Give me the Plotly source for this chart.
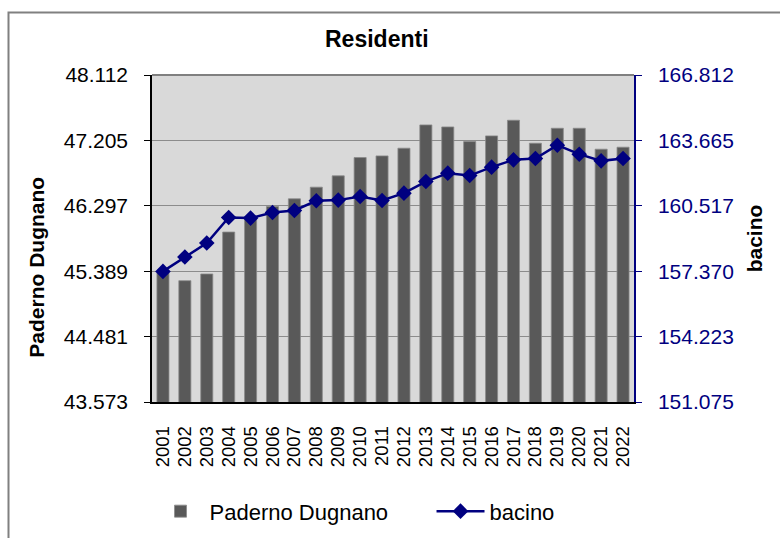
import plotly.graph_objects as go

years = [str(y) for y in range(2001, 2023)]
paderno = [45364, 45257, 45350, 45932, 46126, 46287, 46393, 46555, 46712, 46966, 46989,
           47096, 47419, 47391, 47188, 47267, 47484, 47165, 47373, 47373, 47082, 47110]
bacino = [157360, 158052, 158725, 159955, 159926, 160195, 160291, 160758, 160791, 160964, 160772,
          161127, 161685, 162088, 161973, 162377, 162728, 162790, 163434, 163001, 162680, 162790]

left_ticks = [43573, 44481, 45389, 46297, 47205, 48112]
left_labels = ["43.573", "44.481", "45.389", "46.297", "47.205", "48.112"]
right_ticks = [151075, 154223, 157370, 160517, 163665, 166812]
right_labels = ["151.075", "154.223", "157.370", "160.517", "163.665", "166.812"]

FONT = "Liberation Sans, Arial, sans-serif"
NAVY = "#000080"

# plot area in pixels
L, R, T, B = 152, 634, 75, 402.5
W, H = 780, 538
PW, PH = R - L, B - T


def px(x):
    return (x - L) / PW


def py(y):
    return (B - y) / PH


fig = go.Figure()
fig.add_trace(go.Bar(
    x=years, y=paderno, name="Paderno Dugnano",
    marker=dict(color="#595959", line=dict(color="#8a8a8a", width=0.8)),
    yaxis="y"))
fig.add_trace(go.Scatter(
    x=years, y=bacino, name="bacino", mode="lines+markers",
    line=dict(color=NAVY, width=2.5),
    marker=dict(symbol="diamond", size=12, color=NAVY),
    yaxis="y2"))

fig.update_layout(
    width=W, height=H,
    margin=dict(l=L, r=W - R, t=T, b=H - B, autoexpand=False),
    paper_bgcolor="white", plot_bgcolor="#d9d9d9",
    font=dict(family=FONT, size=21, color="black"),
    bargap=0.45,
    showlegend=True,
    legend=dict(orientation="h", x=-0.001, xanchor="left", y=py(512), yanchor="middle",
                font=dict(size=22), itemwidth=48, entrywidth=217, entrywidthmode="pixels",
                bgcolor="rgba(0,0,0,0)"),
    xaxis=dict(type="category", range=[-0.5, len(years) - 0.5], tickangle=-90, showgrid=False,
               tickmode="linear", dtick=1,
               showline=True, linecolor="black", linewidth=1.5,
               ticks="outside", ticklen=0, tickfont=dict(size=18.5),
               ticklabelstandoff=15),
    yaxis=dict(range=[left_ticks[0], left_ticks[-1]], tickvals=left_ticks, ticktext=left_labels,
               showgrid=True, gridcolor="#8c8c8c", gridwidth=1.2,
               showline=True, linecolor="black", linewidth=1.5,
               ticks="outside", ticklen=6, tickcolor="black", ticklabelstandoff=12,
               tickfont=dict(size=21),
               zeroline=False),
    yaxis2=dict(range=[right_ticks[0], right_ticks[-1]], tickvals=right_ticks, ticktext=right_labels,
                overlaying="y", side="right", showgrid=False,
                showline=True, linecolor=NAVY, linewidth=1.5,
                ticks="outside", ticklen=6, tickcolor=NAVY, ticklabelstandoff=12,
                tickfont=dict(color=NAVY, size=21),
                title=dict(text="<b>bacino</b>", font=dict(size=21, color="black"), standoff=14),
                zeroline=False),
    annotations=[dict(text="<b>Residenti</b>", xref="paper", yref="paper",
                      x=px(377), y=py(39),
                      showarrow=False, font=dict(size=23), xanchor="center", yanchor="middle"),
                 dict(text="<b>Paderno Dugnano</b>", xref="paper", yref="paper",
                      x=px(37), y=py(268), textangle=-90,
                      showarrow=False, font=dict(size=21), xanchor="center", yanchor="middle")],
    shapes=[dict(type="rect", xref="paper", yref="paper",
                 x0=px(8.5), x1=px(800),
                 y0=py(560), y1=py(12.5),
                 line=dict(color="#808080", width=2), layer="below"),
            dict(type="line", xref="paper", yref="paper", x0=0, x1=1, y0=1, y1=1,
                 line=dict(color="#808080", width=2))],
)

fig.write_html("out.html", config={"displayModeBar": False},
               post_script="document.body.style.margin='0';")
